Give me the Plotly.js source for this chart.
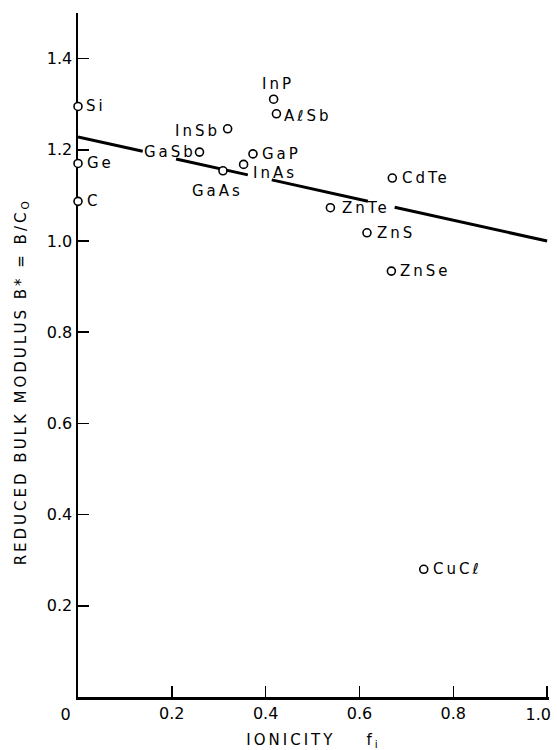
<!DOCTYPE html>
<html>
<head>
<meta charset="utf-8">
<script src="https://cdn.plot.ly/plotly-3.0.1.min.js"></script>
<style>
  html, body { margin: 0; padding: 0; background: #fff; }
  #chart { width: 557px; height: 750px; }
  .annotation-text { letter-spacing: 3px; }
  .annotation[data-index="15"] .annotation-text,
  .annotation[data-index="16"] .annotation-text { letter-spacing: 0; }
  .xtitle, .ytitle { letter-spacing: 3px; }
</style>
</head>
<body>
<div id="chart"></div>
<script>
// ---- data ----
const compounds = ['Si','Ge','C','InSb','GaSb','GaAs','InAs','GaP','InP','AℓSb','CdTe','ZnTe','ZnS','ZnSe','CuCℓ'];
const ionicity  = [0, 0, 0, 0.319, 0.259, 0.309, 0.353, 0.373, 0.417, 0.423, 0.670, 0.538, 0.616, 0.668, 0.737];
const bulkMod   = [1.295, 1.170, 1.087, 1.246, 1.195, 1.154, 1.168, 1.191, 1.311, 1.279, 1.138, 1.073, 1.018, 0.934, 0.280];

// fitted trend line, broken where labels cross it (null = gap)
const fitX = [0, 0.138, null, 0.209, 0.362, null, 0.413, 0.618, null, 0.675, 1.0];
const fitY = [1.228, 1.197, null, 1.180, 1.145, null, 1.134, 1.087, null, 1.074, 1.000];

const xTickVals = [0.2, 0.4, 0.6, 0.8, 1.0];
const xTickText = ['0.2', '0.4', '0.6', '0.8', '1.0'];
const yTickVals = [0.2, 0.4, 0.6, 0.8, 1.0, 1.2, 1.4];
const yTickText = ['0.2', '0.4', '0.6', '0.8', '1.0', '1.2', '1.4'];
const originLabel = '0';

const xTitle = 'IONICITY    f<sub>i</sub>';
const yTitle = 'REDUCED BULK MODULUS B* = B/C<sub>O</sub>';

// ---- label placement (style, not data) ----
const labelPlace = {
  'Si':   {anchor:'left',   dx: 6,  dy: 0},
  'Ge':   {anchor:'left',   dx: 7,  dy: 0},
  'C':    {anchor:'left',   dx: 7,  dy: 0},
  'InSb': {anchor:'right',  dx: -6, dy: -2},
  'GaSb': {anchor:'right',  dx: -2, dy: 0},
  'GaAs': {anchor:'center', dx: -5, dy: -20},
  'InAs': {anchor:'left',   dx: 7,  dy: -9},
  'GaP':  {anchor:'left',   dx: 7,  dy: 0},
  'InP':  {anchor:'center', dx: 4,  dy: 15},
  'AℓSb': {anchor:'left',   dx: 6,  dy: -2},
  'CdTe': {anchor:'left',   dx: 8,  dy: 0},
  'ZnTe': {anchor:'left',   dx: 10, dy: 0},
  'ZnS':  {anchor:'left',   dx: 8,  dy: 0},
  'ZnSe': {anchor:'left',   dx: 7,  dy: 0},
  'CuCℓ': {anchor:'left',   dx: 7,  dy: 0}
};

const FONT = 'DejaVu Sans, Arial, sans-serif';

const traces = [
  {
    x: fitX, y: fitY, type: 'scatter', mode: 'lines',
    line: {color: '#000', width: 3}, connectgaps: false,
    hoverinfo: 'skip', cliponaxis: false
  },
  {
    x: ionicity, y: bulkMod, type: 'scatter', mode: 'markers',
    text: compounds,
    marker: {symbol: 'circle', size: 8, color: '#fff', line: {color: '#000', width: 1.6}},
    cliponaxis: false
  }
];

const annotations = compounds.map((name, i) => {
  const p = labelPlace[name];
  return {
    x: ionicity[i], y: bulkMod[i], xref: 'x', yref: 'y',
    text: name, showarrow: false,
    xanchor: p.anchor, yanchor: 'middle',
    xshift: p.dx, yshift: p.dy,
    font: {family: FONT, size: 15, color: '#000'}
  };
});

// origin label "0" shared by the axes (annotation index 15)
annotations.push({
  x: 0, y: 0, xref: 'x', yref: 'y', text: originLabel, showarrow: false,
  xanchor: 'center', yanchor: 'top', xshift: -13, yshift: -6,
  font: {family: FONT, size: 16, color: '#000'}
});

// last x tick label, kept inside the page edge (annotation index 16)
const lastIdx = xTickVals.length - 1;
annotations.push({
  x: xTickVals[lastIdx], y: 0, xref: 'x', yref: 'y', text: xTickText[lastIdx], showarrow: false,
  xanchor: 'right', yanchor: 'top', xshift: 10, yshift: -6,
  font: {family: FONT, size: 16, color: '#000'}
});
const xTickTextShown = xTickText.map((t, i) => i === lastIdx ? '' : t);

// y-axis title (placed as a rotated annotation to match its position)
annotations.push({
  x: 0, y: 0.46, xref: 'paper', yref: 'paper', text: yTitle, showarrow: false,
  textangle: -90, xanchor: 'center', yanchor: 'middle', xshift: -57,
  font: {family: FONT, size: 15, color: '#000'}
});

const layout = {
  width: 557, height: 750,
  margin: {l: 78, r: 8, t: 13, b: 53},
  paper_bgcolor: '#fff', plot_bgcolor: '#fff',
  showlegend: false,
  font: {family: FONT, color: '#000'},
  xaxis: {
    range: [0, 1.004], showgrid: false, zeroline: false,
    showline: true, linecolor: '#000', linewidth: 2.5,
    ticks: 'inside', ticklen: 11, tickwidth: 1.5, tickcolor: '#000',
    tickvals: xTickVals, ticktext: xTickTextShown,
    tickfont: {family: FONT, size: 16, color: '#000'},
    layer: 'below traces',
    title: {text: xTitle, font: {family: FONT, size: 15, color: '#000'}, standoff: 14}
  },
  yaxis: {
    range: [0, 1.5], showgrid: false, zeroline: false,
    showline: true, linecolor: '#000', linewidth: 2.5,
    ticks: 'inside', ticklen: 11, tickwidth: 1.5, tickcolor: '#000',
    tickvals: yTickVals, ticktext: yTickText,
    tickfont: {family: FONT, size: 16, color: '#000'},
    layer: 'below traces'
  },
  annotations: annotations
};

Plotly.newPlot('chart', traces, layout, {displayModeBar: false, staticPlot: true});
</script>
</body>
</html>
